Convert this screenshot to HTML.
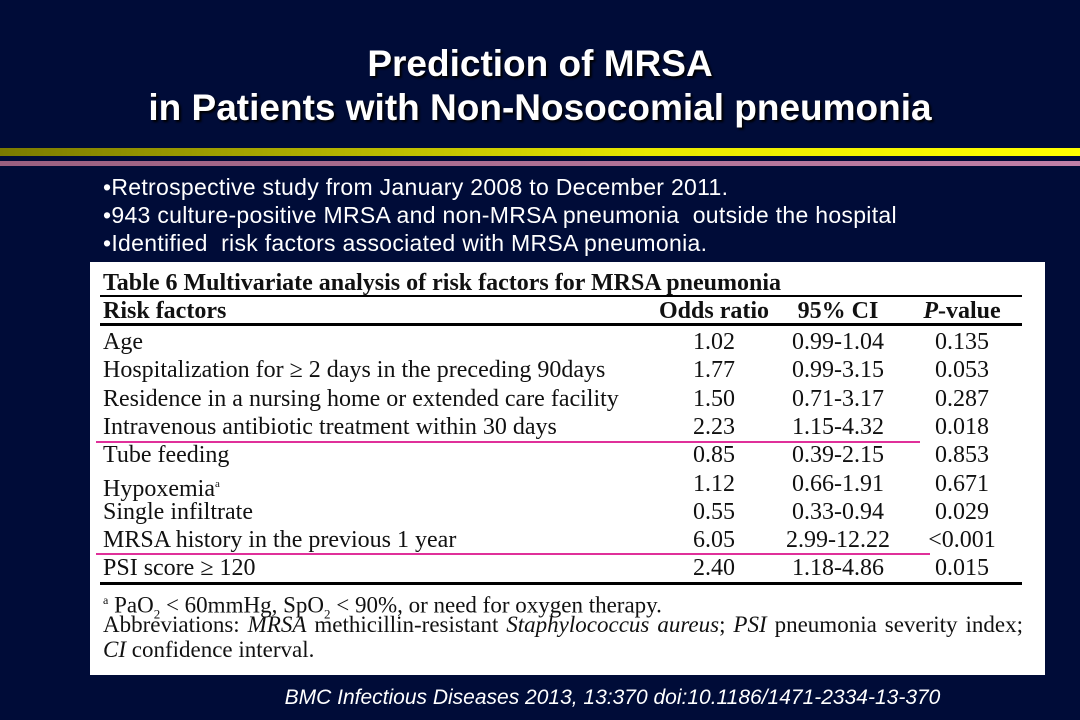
<!DOCTYPE html>
<html><head><meta charset="utf-8"><style>
body{margin:0;width:1080px;height:720px;background:#000c38;position:relative;overflow:hidden;font-family:"Liberation Sans",sans-serif;}
.a{position:absolute;}
.t{color:#fff;font-weight:bold;font-size:37px;width:1080px;text-align:center;text-shadow:2px 2px 2px #000;}
.b{color:#fff;font-size:23px;letter-spacing:0.3px;left:103px;white-space:nowrap;}
.tb{left:90px;top:262px;width:955px;height:413px;background:#fff;}
.s{font-family:"Liberation Serif",serif;color:#111;font-size:24px;position:absolute;white-space:nowrap;line-height:28px;}
.c{text-align:center;width:140px;}
.ln{position:absolute;background:#000;}
</style></head><body>
<div class="a t" style="top:43px">Prediction of MRSA</div>
<div class="a t" style="top:87px">in Patients with Non-Nosocomial pneumonia</div>
<div class="a" style="left:0;top:148px;width:1080px;height:8px;background:linear-gradient(90deg,#7a7a00,#e8e800 60%,#ffff00)"></div>
<div class="a" style="left:0;top:161px;width:1080px;height:5px;background:linear-gradient(90deg,#9a6080,#c080a8)"></div>
<div class="a b" style="top:174px">•Retrospective study from January 2008 to December 2011.</div>
<div class="a b" style="top:202px">•943 culture-positive MRSA and non-MRSA pneumonia &nbsp;outside the hospital</div>
<div class="a b" style="top:230px">•Identified &nbsp;risk factors associated with MRSA pneumonia.</div>
<div class="a tb">
<div class="s" style="left:13px;top:7px;font-weight:bold">Table 6 Multivariate analysis of risk factors for MRSA pneumonia</div>
<div class="ln" style="left:10px;top:33px;width:922px;height:2px"></div>
<div class="s" style="left:13px;top:35px;font-weight:bold">Risk factors</div>
<div class="s c" style="left:554px;top:35px;font-weight:bold">Odds ratio</div>
<div class="s c" style="left:678px;top:35px;font-weight:bold">95% CI</div>
<div class="s c" style="left:802px;top:35px;font-weight:bold"><i>P</i>-value</div>
<div class="ln" style="left:10px;top:61px;width:922px;height:3px"></div>
<div id="rows"></div>
<div class="ln" style="left:10px;top:320px;width:922px;height:3px"></div>
<div class="a" style="left:6px;top:179px;width:824px;height:2px;background:#e0309a"></div>
<div class="a" style="left:6px;top:291px;width:834px;height:2px;background:#e0309a"></div>
<div class="s" style="left:13px;top:324px;font-size:23px"><sup style="font-size:12px">a</sup> PaO<sub style="font-size:13px">2</sub> &lt; 60mmHg, SpO<sub style="font-size:13px">2</sub> &lt; 90%, or need for oxygen therapy.</div>
<div class="s" style="left:13px;top:350px;width:920px;white-space:normal;line-height:25px;text-align:justify;font-size:23px">Abbreviations: <i>MRSA</i> methicillin-resistant <i>Staphylococcus aureus</i>; <i>PSI</i> pneumonia severity index; <i>CI</i> confidence interval.</div>
</div>
<div class="a" style="left:0;width:1080px;top:686px;text-align:center;color:#fff;font-style:italic;font-size:21px;padding-left:145px;box-sizing:border-box">BMC Infectious Diseases 2013, 13:370 doi:10.1186/1471-2334-13-370</div>
<script>
const factors=["Age","Hospitalization for \u2265 2 days in the preceding 90days","Residence in a nursing home or extended care facility","Intravenous antibiotic treatment within 30 days","Tube feeding","Hypoxemia<sup style='font-size:11px'>a</sup>","Single infiltrate","MRSA history in the previous 1 year","PSI score \u2265 120"];
const odds=["1.02","1.77","1.50","2.23","0.85","1.12","0.55","6.05","2.40"];
const cis=["0.99-1.04","0.99-3.15","0.71-3.17","1.15-4.32","0.39-2.15","0.66-1.91","0.33-0.94","2.99-12.22","1.18-4.86"];
const pvals=["0.135","0.053","0.287","0.018","0.853","0.671","0.029","<0.001","0.015"];
const host=document.getElementById('rows');
factors.forEach((f,i)=>{
  const y=66+i*28.3;
  const cells=[[f,13,false],[odds[i],554,true],[cis[i],678,true],[pvals[i].replace('<','&lt;'),802,true]];
  cells.forEach((c,j)=>{
    const d=document.createElement('div');
    d.className='s'+(c[2]?' c':'');
    d.style.left=c[1]+'px';d.style.top=y+'px';
    d.innerHTML=c[0];
    
    
    host.appendChild(d);
  });
});
</script>
</body></html>
